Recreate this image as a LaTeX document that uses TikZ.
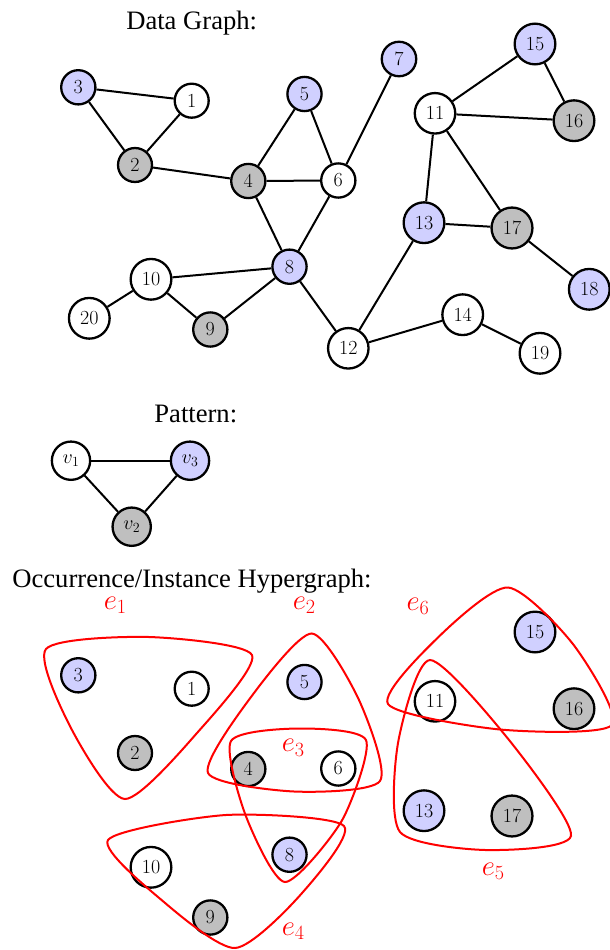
\RequirePackage{fix-cm}
\documentclass[tikz,border=0pt]{standalone}
\usepackage{fontspec}
\newfontfamily\titlefont{Liberation Serif}
\definecolor{nodeblue}{RGB}{208,208,255}
\definecolor{nodegray}{RGB}{191,191,191}
\tikzset{
  vtx/.style={circle, draw=black, line width=2.3pt, inner sep=6.4pt, fill=white,
    font=\fontsize{20}{24}\selectfont},
  bvtx/.style={vtx, fill=nodeblue},
  gvtx/.style={vtx, fill=nodegray},
  edge/.style={line width=2pt},
  hedge/.style={draw=red, line width=2pt, tension=0.42},
  heading/.style={anchor=base, inner sep=0pt, font=\titlefont\fontsize{26.6}{30}\selectfont},
  hlabel/.style={anchor=base, inner sep=0pt, text=red, font=\fontsize{28.8}{34}\selectfont},
}
\begin{document}
\begin{tikzpicture}[x=1pt, y=-1pt]
\useasboundingbox (0,0) rectangle (610,950);

% ---------- data graph ----------
\node[heading] (tdata) at (191.7,30) {Data Graph:};

\node[vtx]  (n1)  at (191.7,100.7) {1};
\node[gvtx] (n2)  at (135,165)     {2};
\node[bvtx] (n3)  at (78.3,87.3)   {3};
\node[gvtx] (n4)  at (248.3,181)   {4};
\node[bvtx] (n5)  at (304.5,94)    {5};
\node[vtx]  (n6)  at (338.3,180.5) {6};
\node[bvtx] (n7)  at (399,59)      {7};
\node[bvtx] (n8)  at (289.5,266.7) {8};
\node[gvtx] (n9)  at (210.3,329.5) {9};
\node[vtx]  (n10) at (151,279.3)   {10};
\node[vtx]  (n11) at (435,113.3)   {11};
\node[vtx]  (n12) at (348.3,348.3) {12};
\node[bvtx] (n13) at (424,222.7)   {13};
\node[vtx]  (n14) at (462.7,314.7) {14};
\node[bvtx] (n15) at (535,44)      {15};
\node[gvtx] (n16) at (574,120.7)   {16};
\node[gvtx] (n17) at (512,228)     {17};
\node[bvtx] (n18) at (589.3,289.3) {18};
\node[vtx]  (n19) at (540,353.3)   {19};
\node[vtx]  (n20) at (89.3,318.3)  {20};

\foreach \a/\b in {n3/n1, n3/n2, n1/n2, n2/n4, n4/n5, n4/n6, n5/n6, n6/n7,
                   n4/n8, n6/n8, n8/n10, n8/n9, n10/n9, n10/n20, n8/n12,
                   n12/n13, n12/n14, n14/n19, n13/n11, n13/n17, n11/n17,
                   n11/n15, n11/n16, n15/n16, n17/n18}
  \draw[edge] (\a) -- (\b);

% ---------- pattern ----------
\node[heading] (tpat) at (195.8,422) {Pattern:};

\node[vtx]  (p1) at (71,460.7)    {$v_1$};
\node[bvtx] (p3) at (190,460.7)   {$v_3$};
\node[gvtx] (p2) at (131.7,526.7) {$v_2$};
\draw[edge] (p1) -- (p3);
\draw[edge] (p1) -- (p2);
\draw[edge] (p2) -- (p3);

% ---------- occurrence hypergraph ----------
\node[heading] (tocc) at (192,587) {Occurrence/Instance Hypergraph:};

\begin{scope}[shift={(0,588)}]
\node[vtx]  (h1)  at (191.7,100.7) {1};
\node[gvtx] (h2)  at (135,165)     {2};
\node[bvtx] (h3)  at (78.3,87.3)   {3};
\node[gvtx] (h4)  at (248.3,181)   {4};
\node[bvtx] (h5)  at (304.5,94)    {5};
\node[vtx]  (h6)  at (338.3,180.5) {6};
\node[bvtx] (h8)  at (289.5,266.7) {8};
\node[gvtx] (h9)  at (210.3,329.5) {9};
\node[vtx]  (h10) at (151,279.3)   {10};
\node[vtx]  (h11) at (435,113.3)   {11};
\node[bvtx] (h13) at (424,222.7)   {13};
\node[bvtx] (h15) at (535,44)      {15};
\node[gvtx] (h16) at (574,120.7)   {16};
\node[gvtx] (h17) at (512,228)     {17};
\end{scope}

% hyperedges: rounded triangles around each occurrence
\draw[hedge] plot[smooth cycle] coordinates
  {(46,649) (149,637) (252,655) (197,733) (125,799) (72,730)};
\draw[hedge] plot[smooth cycle] coordinates
  {(311.7,633.5) (359,700) (380,781) (294,791.5) (208,773) (251,697)};
\draw[hedge] plot[smooth cycle] coordinates
  {(231,741) (298.5,728.5) (366,740) (342,820.4) (285,882) (245.9,816.1)};
\draw[hedge] plot[smooth cycle] coordinates
  {(108,840) (226,815) (344,826) (299.5,895.9) (235,948) (164.4,902.4)};
\draw[hedge] plot[smooth cycle] coordinates
  {(430,660) (509.6,740.7) (571,836) (485.5,850) (400,832) (398,743)};
\draw[hedge] plot[smooth cycle] coordinates
  {(508,587.5) (574,645.4) (612,725) (500,729.5) (388,704) (439,636.5)};

\node[hlabel] (l1) at (115.3,609.3) {$e_1$};
\node[hlabel] (l2) at (304.3,609.3) {$e_2$};
\node[hlabel] (l3) at (293.3,751.7) {$e_3$};
\node[hlabel] (l4) at (293.3,935)   {$e_4$};
\node[hlabel] (l5) at (493.3,875)   {$e_5$};
\node[hlabel] (l6) at (418,610)     {$e_6$};
\end{tikzpicture}
\end{document}
